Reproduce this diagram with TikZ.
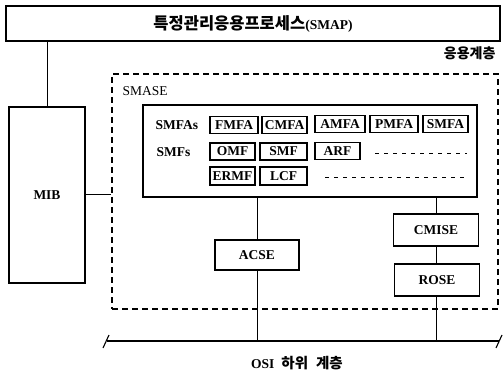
\documentclass[tikz,border=0pt]{standalone}
\usepackage{fontspec}
\setmainfont{Liberation Serif}
\newfontfamily\kr{Noto Sans CJK KR}

\begin{document}
\begin{tikzpicture}[x=1pt, y=-1pt, font=\fontsize{13.5}{15}\selectfont\bfseries,
        box/.style={draw, line width=1.1pt, inner sep=0pt},
        fbox/.style={box, minimum height=17pt}]
        \useasboundingbox (0, 0) rectangle (503, 374);

        % top process and the MIB
        \node[box, minimum width=494, minimum height=35] (smap) at (253, 23.5) {{\kr\fontsize{16.5}{18}\selectfont 특정관리응용프로세스}(SMAP)};
        \node[box, minimum width=76, minimum height=176] (mib) at (47, 195) {MIB};
        \node[anchor=east] (applabel) at (499, 53) {\kr\fontsize{14}{16}\selectfont 응용계층};

        % application layer (dashed)
        \node[draw, line width=1.3pt, dash pattern=on 6pt off 4pt, minimum width=386, minimum height=235] (app) at (305, 191.5) {};
        \node[anchor=west] (smaselabel) at (119, 91) {\mdseries SMASE};
        \node[box, minimum width=334, minimum height=92] (smase) at (310, 151) {};

        % SMFAs row
        \node[anchor=west] (smfas) at (152, 125) {SMFAs};
        \node[fbox, minimum width=48] (fmfa) at (234, 125) {FMFA};
        \node[fbox, minimum width=45] (cmfa) at (284.5, 125) {CMFA};
        \node[fbox, minimum width=50] (amfa) at (340, 124) {AMFA};
        \node[fbox, minimum width=48] (pmfa) at (394, 124) {PMFA};
        \node[fbox, minimum width=45] (smfa) at (445.5, 124) {SMFA};

        % SMFs rows
        \node[anchor=west] (smfs) at (153, 152) {SMFs};
        \node[fbox, minimum width=45] (omf) at (232.5, 151.5) {OMF};
        \node[fbox, minimum width=47] (smf) at (283.5, 151.5) {SMF};
        \node[fbox, minimum width=45] (arf) at (337.5, 151) {ARF};
        \node[fbox, minimum width=45, minimum height=18] (ermf) at (232.5, 176) {ERMF};
        \node[fbox, minimum width=47, minimum height=18] (lcf) at (283.5, 176) {LCF};
        \coordinate (dotsa) at (375, 153);
        \coordinate (dotsb) at (325, 177);
        \draw[dash pattern=on 4pt off 5pt] (dotsa) -- (467, 153);
        \draw[dash pattern=on 4pt off 5pt] (dotsb) -- (467, 177);

        % service elements
        \node[box, minimum width=84, minimum height=30] (acse) at (257, 255) {ACSE};
        \node[box, minimum width=85, minimum height=32] (cmise) at (436, 230) {CMISE};
        \node[box, minimum width=85, minimum height=32] (rose) at (437, 280) {ROSE};

        % lower OSI layers
        \coordinate (bl) at (107, 341);
        \coordinate (br) at (499, 341);
        \draw[line width=1.1pt] (bl) -- (br);
        \draw[line width=1.1pt] (103, 348) -- (109, 335);
        \draw[line width=1.1pt] (496, 348) -- (502, 335);
        \node (osi) at (297, 363) {OSI\hspace{7pt}{\kr\fontsize{14.5}{16}\selectfont 하위\hspace{8pt}계층}};

        % connectors
        \draw[line width=1pt] (mib.north) -- (mib.north |- smap.south);
        \draw[line width=1pt] (mib.east) -- (mib.east -| app.west);
        \draw[line width=1pt] (acse.north |- smase.south) -- (acse.north);
        \draw[line width=1pt] (acse.south) -- (acse.south |- bl);
        \draw[line width=1pt] (cmise.north |- smase.south) -- (cmise.north);
        \draw[line width=1pt] (cmise.south) -- (cmise.south |- rose.north);
        \draw[line width=1pt] (cmise.south |- rose.south) -- (cmise.south |- br);
    \end{tikzpicture}
\end{document}
